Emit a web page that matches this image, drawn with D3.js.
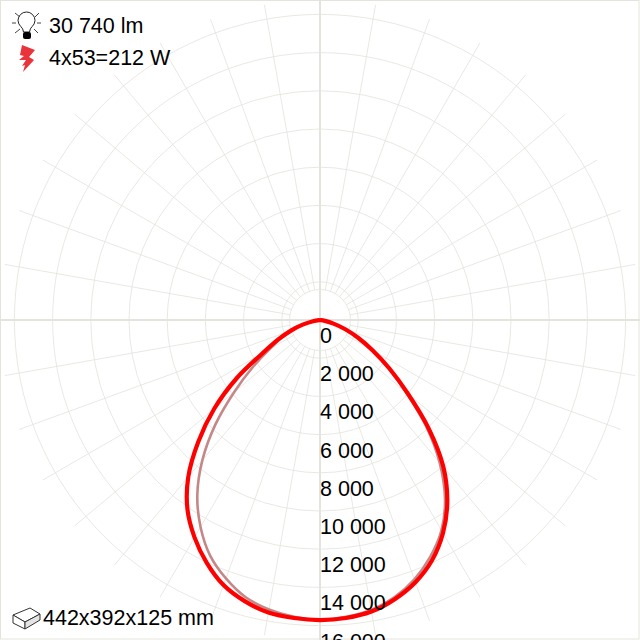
<!DOCTYPE html>
<html><head><meta charset="utf-8">
<style>html,body{margin:0;padding:0;background:#fff}svg{display:block}text{font-family:"Liberation Sans",Arial,sans-serif;fill:#000}</style>
<script src="https://cdn.jsdelivr.net/npm/d3@7/dist/d3.min.js"></script>
</head><body><svg id="c" width="640" height="640"></svg>
<script>
const gammaAngles=[0,5,10,15,20,25,30,35,40,45,50,55,60,65,70,75,80,85,90];
const redLeft=[15710,15660,15550,15240,14770,14030,13140,12100,10730,9010,7230,5340,3460,2410,1620,940,370,50,0];
const redRight=[15710,15660,15500,15130,14610,13880,12880,11620,10050,8060,6020,4450,3190,2200,1410,730,260,50,0];
const brownLeft=[15700,15600,15390,15030,14400,13610,12510,11200,9580,7750,5860,4290,3040,2250,1520,890,310,50,0];
const brownRight=[15650,15600,15420,15030,14450,13670,12720,11410,9740,7850,5860,4350,3090,2150,1360,680,260,50,0];
const tickValues=[0,2000,4000,6000,8000,10000,12000,14000,16000];
const tickLabels=["0","2 000","4 000","6 000","8 000","10 000","12 000","14 000","16 000"];
const spokeAngles=d3.range(0,360,10);
const fluxLabel="30 740 lm", powerLabel="4x53=212 W", sizeLabel="442x392x125 mm";

const svg=d3.select("#c"), cx=320, cy=320, grid="#e4e4de";
const r=d3.scaleLinear().domain([0,16000]).range([0,305.6]);
const rad=d=>d*Math.PI/180;

svg.append("rect").attr("x",0.5).attr("y",0.5).attr("width",638.5).attr("height",638.5).attr("fill","none").attr("stroke",grid);
const g=svg.append("g").attr("transform",`translate(${cx},${cy})`);
const inner=30.5, outer=320, thin=0.85;
g.selectAll(".ring").data(tickValues.slice(1)).join("circle").attr("r",d=>r(d)).attr("fill","none").attr("stroke",grid).attr("stroke-width",thin);
g.append("circle").attr("r",inner).attr("fill","none").attr("stroke",grid).attr("stroke-width",thin);
g.selectAll(".sp").data(spokeAngles.filter(a=>a%90!==0)).join("line")
 .attr("x1",a=>inner*Math.sin(rad(a))).attr("y1",a=>-inner*Math.cos(rad(a)))
 .attr("x2",a=>outer*Math.sin(rad(a))).attr("y2",a=>-outer*Math.cos(rad(a)))
 .attr("stroke",grid).attr("stroke-width",thin);
g.append("line").attr("x1",-320).attr("x2",320).attr("stroke",grid).attr("stroke-width",2);
g.append("line").attr("y1",-320).attr("y2",320).attr("stroke",grid).attr("stroke-width",2);

function polar(left,right){
 const pts=[];
 gammaAngles.slice().reverse().forEach((a,i,arr)=>pts.push([Math.PI+rad(a),left[arr.length-1-i]]));
 gammaAngles.slice(1).forEach((a,i)=>pts.push([Math.PI-rad(a),right[i+1]]));
 return pts;
}
const line=d3.lineRadial().angle(d=>d[0]).radius(d=>r(d[1])).curve(d3.curveCatmullRom.alpha(0.5));
g.append("path").attr("d",line(polar(brownLeft,brownRight))).attr("fill","none").attr("stroke","#c48888").attr("stroke-width",2.6);
g.append("path").attr("d",line(polar(redLeft,redRight))).attr("fill","none").attr("stroke","#ff0000").attr("stroke-width",4.2).attr("stroke-linejoin","round");

svg.selectAll(".tick").data(tickValues).join("text").attr("x",320).attr("y",d=>343+r(d)).attr("font-size",21.5).text((d,i)=>tickLabels[i]);

svg.append("text").attr("x",49).attr("y",33).attr("font-size",21.5).text(fluxLabel);
svg.append("text").attr("x",49).attr("y",65).attr("font-size",21.5).text(powerLabel);
svg.append("text").attr("x",43).attr("y",625).attr("font-size",21.5).text(sizeLabel);

// bulb icon
const b=svg.append("g");
b.append("path").attr("d","M23.5 32 C23.5 27 18 26 18 20.5 A8.5 8.5 0 1 1 35 20.5 C35 26 29.5 27 29.5 32Z").attr("fill","#fff").attr("stroke","#222").attr("stroke-width",1);
b.append("rect").attr("x",23).attr("y",32).attr("width",8).attr("height",7).attr("rx",2).attr("fill","#000");
[[12,23,16,23],[37,23,41,23],[15,13,20,17],[39,13,35,17],[15,33,20,29],[38,33,34,29]].forEach(s=>
 b.append("line").attr("x1",s[0]).attr("y1",s[1]).attr("x2",s[2]).attr("y2",s[3]).attr("stroke","#444").attr("stroke-width",1));
// bolt icon
svg.append("path").attr("d","M22 45 L35 50 L29 57 L34 60 L23 72 L25 65 L22 66 L26 60 L19 60 L24 56 L20 55Z").attr("fill","#e8343a");
// box icon
const x=svg.append("g").attr("fill","none").attr("stroke","#333").attr("stroke-width",1);
x.append("path").attr("d","M13 615 L30 608 L40 614 L25 622 Z").attr("fill","#fff");
x.append("path").attr("d","M13 615 L13 623 L25 629 L25 622 Z").attr("fill","#fff");
x.append("path").attr("d","M25 622 L40 614 L40 620 L25 629 Z").attr("fill","#e4e4e4");
</script></body></html>
